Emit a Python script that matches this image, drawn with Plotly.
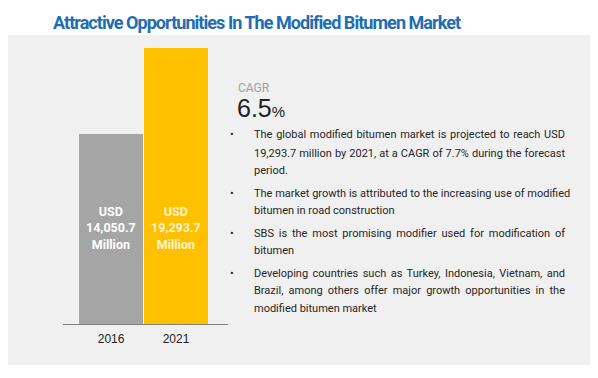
import json
import plotly.graph_objects as go

# The page places the figure 8px in from the top-left corner of the window
OFF = 8
W, H = 598 - OFF, 378 - OFF

years = ["2016", "2021"]
values = [14050.7, 19293.7]
bar_colors = ["#a5a5a5", "#ffc000"]
label_colors = ["#ffffff", "#fff4cc"]
value_labels = ["USD<br>14,050.7<br>Million", "USD<br>19,293.7<br>Million"]

title_text = "Attractive Opportunities In The Modified Bitumen Market"
cagr_label = "CAGR"
cagr_value = "6.5"
bullets = [
    ["The global modified bitumen market is projected to reach USD",
     "19,293.7 million by 2021, at a CAGR of 7.7% during the forecast",
     "period."],
    ["The market growth is attributed to the increasing use of modified",
     "bitumen in road construction"],
    ["SBS is the most promising modifier used for modification of",
     "bitumen"],
    ["Developing countries such as Turkey, Indonesia, Vietnam, and",
     "Brazil, among others offer major growth opportunities in the",
     "modified bitumen market"],
]

def py(p):
    return 1 - (p - OFF) / H

def px(p):
    return (p - OFF) / W

fig = go.Figure()
fig.add_trace(go.Bar(
    x=years, y=values, marker=dict(color=bar_colors, line=dict(width=0)),
    width=0.985, hoverinfo="skip",
))

# y-axis scale: picture bars are not drawn to a zero base
y_bottom = 2467.6
y_top = 19293.7 + (48 - 40) / (276 / (19293.7 - y_bottom))

fig.update_layout(
    width=W, height=H,
    margin=dict(l=0, r=0, t=0, b=0),
    paper_bgcolor="white", plot_bgcolor="rgba(0,0,0,0)",
    showlegend=False,
    bargap=0,
    xaxis=dict(domain=[px(63), px(228)], range=[-0.74, 1.80], type="category",
               showline=True, linecolor="#7f7f7f", linewidth=1, showgrid=False,
               zeroline=False, ticks="", ticklabelstandoff=4,
               tickfont=dict(family="Liberation Sans, Arial", size=12, color="#222222")),
    yaxis=dict(domain=[py(324), py(40)], range=[y_bottom, y_top], visible=False),
)

# background panel
fig.add_shape(type="rect", xref="paper", yref="paper", layer="below",
              x0=px(6), x1=px(590), y0=py(365), y1=py(35),
              fillcolor="#f0f0f0", line=dict(width=0))

ann = []
ann.append(dict(text="<b><span style='letter-spacing:-0.95px'>" + title_text + "</span></b>",
                x=px(51), y=py(22), xref="paper", yref="paper",
                xanchor="left", yanchor="middle", showarrow=False, align="left",
                font=dict(family="Roboto", size=18, color="#1f6db3")))

for i, yr in enumerate(years):
    ann.append(dict(text="<b>" + value_labels[i] + "</b>", x=i, y=py(228), xref="x", yref="paper",
                    xanchor="center", yanchor="middle", showarrow=False,
                    font=dict(family="Roboto", size=12.5, color=label_colors[i])))

ann.append(dict(text=cagr_label, x=px(236), y=py(88), xref="paper", yref="paper",
                xanchor="left", yanchor="middle", showarrow=False,
                font=dict(family="Roboto", size=12, color="#a0a0a0")))
ann.append(dict(text=cagr_value + "<span style='font-size:15px'>%</span>", x=px(235), y=py(108), xref="paper", yref="paper",
                xanchor="left", yanchor="middle", showarrow=False,
                font=dict(family="Liberation Sans, Arial", size=25, color="#222222")))

line_y = [[134, 153, 171], [193, 210], [233, 251], [273, 290, 308]]
body_font = dict(family="Roboto", size=11, color="#262626")
justify_lines = []
for b, lines in enumerate(bullets):
    ann.append(dict(text="•", x=px(232), y=py(line_y[b][0]), xref="paper", yref="paper",
                    xanchor="center", yanchor="middle", showarrow=False, font=body_font))
    for j, ln in enumerate(lines):
        ann.append(dict(text=ln, x=px(252), y=py(line_y[b][j]), xref="paper", yref="paper",
                        xanchor="left", yanchor="middle", showarrow=False, align="left",
                        font=body_font))
        if j < len(lines) - 1:
            justify_lines.append(ln)

fig.update_layout(annotations=ann)

# justify the non-final lines of each paragraph to the paragraph width (as in the reference)
TEXT_WIDTH = 311
post = """
var lines = %s;
var target = %d;
document.querySelectorAll('text.annotation-text').forEach(function(el){
  var t = el.textContent;
  if (lines.indexOf(t) >= 0) {
    var n = (t.match(/ /g) || []).length;
    var w = el.getComputedTextLength();
    if (n > 0 && w < target) { el.style.wordSpacing = ((target - w) / n) + 'px'; }
  }
});
""" % (json.dumps(justify_lines), TEXT_WIDTH)

fig.write_html("out.html", post_script=post)
